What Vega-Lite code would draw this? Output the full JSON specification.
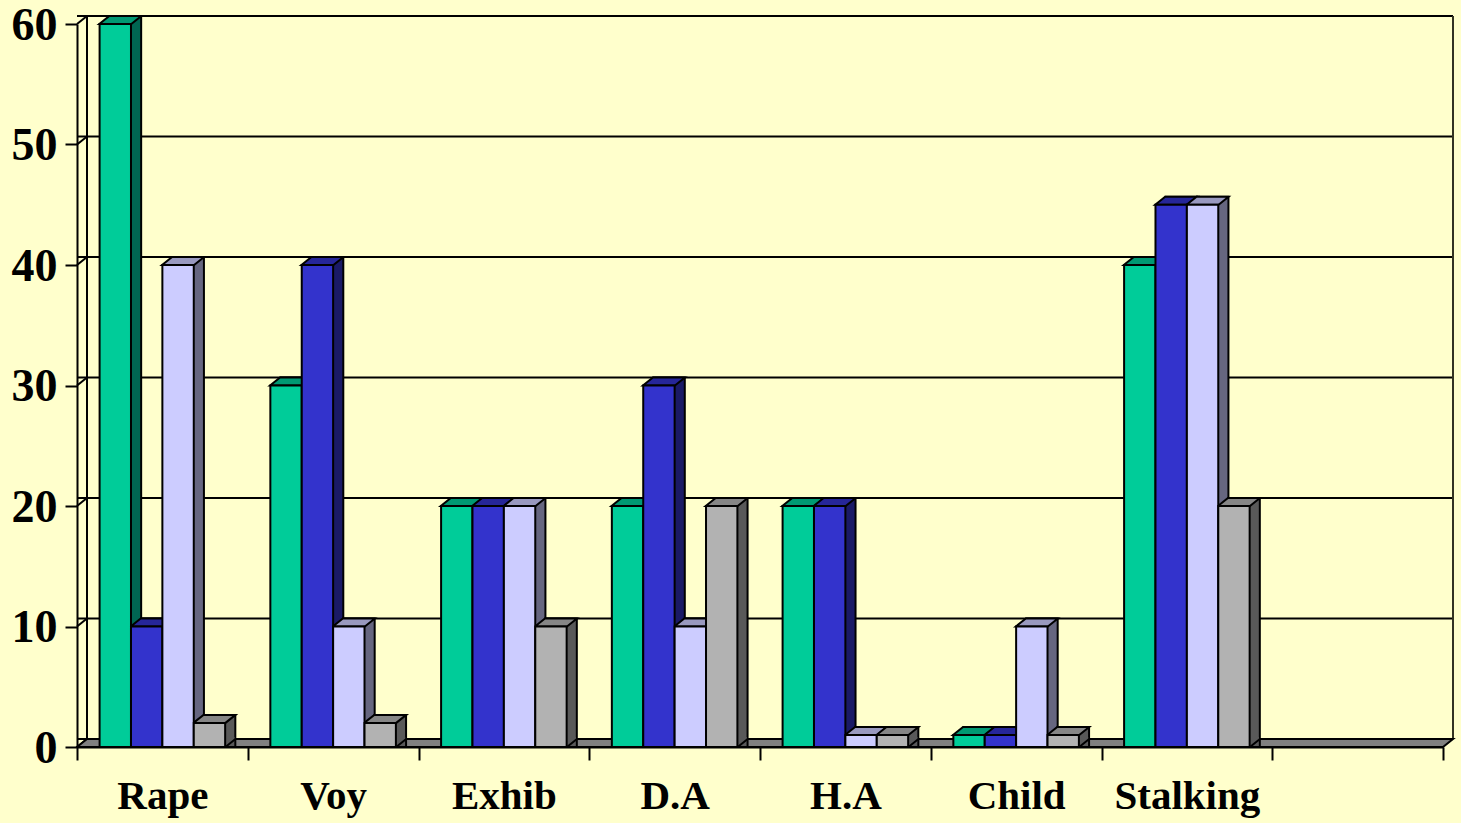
{
"$schema":"https://vega.github.io/schema/vega-lite/v6.json",
"width":1366,"height":723,"autosize":"none",
"padding":{"left":77,"top":24,"right":18,"bottom":76},
"background":"#FFFFCC",
"view":{"stroke":null},
"config":{"axis":{"labelFont":"Liberation Serif","labelFontWeight":"bold","labelColor":"black","domainColor":"black","tickColor":"black","domainWidth":2,"tickWidth":2,"grid":false,"title":null}},
"datasets":{
"bars":[
{"category":"Rape","series":"A","value":60},{"category":"Rape","series":"B","value":10},{"category":"Rape","series":"C","value":40},{"category":"Rape","series":"D","value":2},
{"category":"Voy","series":"A","value":30},{"category":"Voy","series":"B","value":40},{"category":"Voy","series":"C","value":10},{"category":"Voy","series":"D","value":2},
{"category":"Exhib","series":"A","value":20},{"category":"Exhib","series":"B","value":20},{"category":"Exhib","series":"C","value":20},{"category":"Exhib","series":"D","value":10},
{"category":"D.A","series":"A","value":20},{"category":"D.A","series":"B","value":30},{"category":"D.A","series":"C","value":10},{"category":"D.A","series":"D","value":20},
{"category":"H.A","series":"A","value":20},{"category":"H.A","series":"B","value":20},{"category":"H.A","series":"C","value":1},{"category":"H.A","series":"D","value":1},
{"category":"Child","series":"A","value":1},{"category":"Child","series":"B","value":1},{"category":"Child","series":"C","value":10},{"category":"Child","series":"D","value":1},
{"category":"Stalking","series":"A","value":40},{"category":"Stalking","series":"B","value":45},{"category":"Stalking","series":"C","value":45},{"category":"Stalking","series":"D","value":20}
],
"levels":[{"v":0},{"v":10},{"v":20},{"v":30},{"v":40},{"v":50},{"v":60}]
},
"resolve":{"scale":{"fill":"independent","xOffset":"independent"}},
"layer":[
{"data":{"name":"levels"},"mark":{"type":"rule","stroke":"black","strokeWidth":2,"xOffset":10,"x2Offset":10,"yOffset":-8},
 "encoding":{"y":{"field":"v","type":"quantitative","scale":{"domain":[0,60],"nice":false},"axis":{"values":[0,10,20,30,40,50,60],"labelFontSize":46,"tickSize":12,"labelPadding":8,"labelOffset":1,"domain":true}}}},
{"data":{"name":"levels"},"mark":{"type":"point","filled":false,"shape":"M0,0L10,-8","size":4,"stroke":"black","strokeWidth":2,"opacity":1},
 "encoding":{"x":{"datum":"Rape","type":"nominal","bandPosition":0,"scale":{"type":"band","domain":["Rape","Voy","Exhib","D.A","H.A","Child","Stalking"," "],"padding":0},
   "axis":{"labelFontSize":41,"labelAngle":0,"tickSize":13,"tickBand":"extent","labelPadding":16,"domain":true}},"y":{"field":"v","type":"quantitative"}}},
{"data":{"values":[{"c":"Rape"}]},"mark":{"type":"rule","strokeWidth":2,"stroke":"black","xOffset":10,"yOffset":-8,"y2Offset":-8},
 "encoding":{"x":{"field":"c","type":"nominal","bandPosition":0,"scale":{"type":"band","domain":["Rape","Voy","Exhib","D.A","H.A","Child","Stalking"," "],"padding":0}},"y":{"datum":0,"type":"quantitative"},"y2":{"datum":60}}},
{"data":{"values":[{"c":" "}]},"mark":{"type":"rule","strokeWidth":2,"stroke":"#333322","xOffset":10,"yOffset":-8,"y2Offset":-8},
 "encoding":{"x":{"field":"c","type":"nominal","bandPosition":1,"scale":{"type":"band","domain":["Rape","Voy","Exhib","D.A","H.A","Child","Stalking"," "],"padding":0}},"y":{"datum":0,"type":"quantitative"},"y2":{"datum":60}}},
{"data":{"values":[{"c":"Rape"}]},"mark":{"type":"point","filled":true,"shape":"M0,0L10,-8L1376,-8L1366,0Z","size":4,"fill":"#808080","stroke":"black","strokeWidth":2,"opacity":1},
 "encoding":{"x":{"field":"c","type":"nominal","bandPosition":0,"scale":{"type":"band","domain":["Rape","Voy","Exhib","D.A","H.A","Child","Stalking"," "],"padding":0}},"y":{"datum":0,"type":"quantitative"}}},
{"data":{"name":"bars"},"mark":{"type":"bar","stroke":"black","strokeWidth":2,"yOffset":-8,"y2Offset":-8},
 "encoding":{"x":{"field":"category","type":"nominal","scale":{"type":"band","domain":["Rape","Voy","Exhib","D.A","H.A","Child","Stalking"," "],"padding":0}},
 "xOffset":{"field":"series","type":"nominal","scale":{"type":"band","domain":["A","B","C","D"],"paddingInner":0,"paddingOuter":0.72,"align":0.725}},
 "y":{"field":"value","type":"quantitative","stack":null},
 "fill":{"field":"series","type":"nominal","legend":null,"scale":{"domain":["A","B","C","D"],"range":["#006652","#1A1A66","#666680","#595959"]}}}},
{"data":{"name":"bars"},"mark":{"type":"point","filled":true,"shape":"M16,0L25,-7.2L25,-10L16,-10Z","size":4,"strokeWidth":0,"opacity":1},
 "encoding":{"x":{"field":"category","type":"nominal","scale":{"type":"band","domain":["Rape","Voy","Exhib","D.A","H.A","Child","Stalking"," "],"padding":0}},
 "xOffset":{"field":"series","type":"nominal","scale":{"type":"band","domain":["A","B","C","D"],"paddingInner":0,"paddingOuter":0.72}},
 "y":{"datum":0,"type":"quantitative"},
 "fill":{"field":"series","type":"nominal","legend":null,"scale":{"domain":["A","B","C","D"],"range":["#006652","#1A1A66","#666680","#595959"]}}}},
{"data":{"name":"bars"},"mark":{"type":"point","filled":false,"shape":"M16,0L26,-8","size":4,"stroke":"black","strokeWidth":2,"opacity":1},
 "encoding":{"x":{"field":"category","type":"nominal","scale":{"type":"band","domain":["Rape","Voy","Exhib","D.A","H.A","Child","Stalking"," "],"padding":0}},
 "xOffset":{"field":"series","type":"nominal","scale":{"type":"band","domain":["A","B","C","D"],"paddingInner":0,"paddingOuter":0.72}},
 "y":{"datum":0,"type":"quantitative"}}},
{"data":{"name":"bars"},"mark":{"type":"point","filled":true,"shape":"M-16,0L-6,-8L26,-8L16,0Z","size":4,"stroke":"black","strokeWidth":2,"opacity":1},
 "encoding":{"x":{"field":"category","type":"nominal","scale":{"type":"band","domain":["Rape","Voy","Exhib","D.A","H.A","Child","Stalking"," "],"padding":0}},
 "xOffset":{"field":"series","type":"nominal","scale":{"type":"band","domain":["A","B","C","D"],"paddingInner":0,"paddingOuter":0.72}},
 "y":{"field":"value","type":"quantitative"},
 "fill":{"field":"series","type":"nominal","legend":null,"scale":{"domain":["A","B","C","D"],"range":["#009973","#262699","#9999BF","#868686"]}}}},
{"data":{"name":"bars"},"mark":{"type":"bar","stroke":"black","strokeWidth":2},
 "encoding":{"x":{"field":"category","type":"nominal","scale":{"type":"band","domain":["Rape","Voy","Exhib","D.A","H.A","Child","Stalking"," "],"padding":0}},
 "xOffset":{"field":"series","type":"nominal","scale":{"type":"band","domain":["A","B","C","D"],"paddingInner":0,"paddingOuter":0.72}},
 "y":{"field":"value","type":"quantitative","stack":null},
 "fill":{"field":"series","type":"nominal","legend":null,"scale":{"domain":["A","B","C","D"],"range":["#00CC99","#3333CC","#CCCCFF","#B2B2B2"]}}}}
]
}
